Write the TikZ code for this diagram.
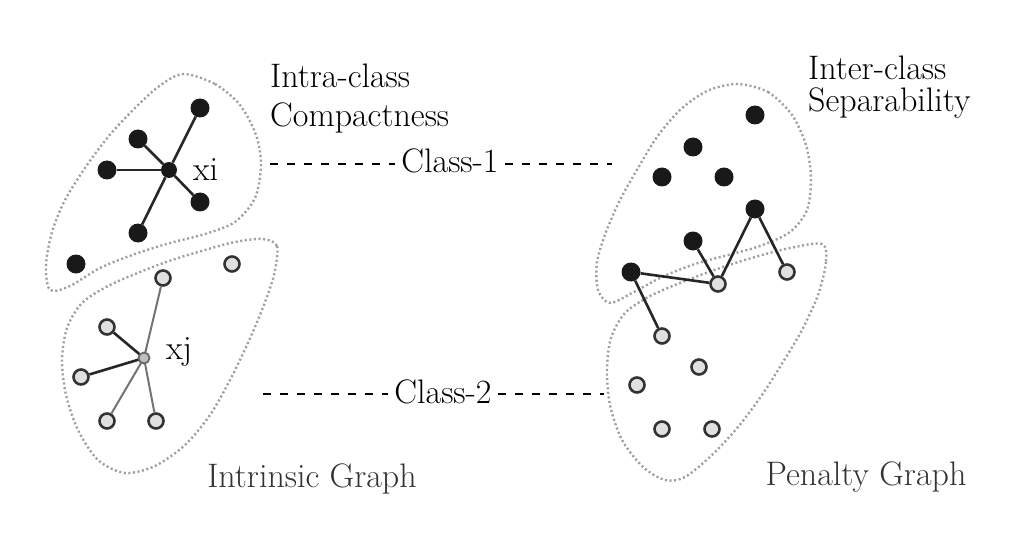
\documentclass[tikz,border=0pt]{standalone}
\begin{document}
\begin{tikzpicture}[x=1pt,y=-1pt,
  bdot/.style={circle,fill=black!90,inner sep=0pt,minimum size=19pt},
  wdot/.style={circle,fill=black!12,draw=black!80,line width=2.6pt,inner sep=0pt,minimum size=15pt},
  cdot/.style={circle,fill=black!25,draw=black!60,line width=1.8pt,inner sep=0pt,minimum size=11pt},
  blob/.style={draw=black!38,line width=2.4pt,dash pattern=on 2pt off 2.6pt},
  edge/.style={line width=2.6pt,draw=black!85},
  gedge/.style={line width=2pt,draw=black!55},
  lbl/.style={font=\fontsize{34}{40}\selectfont,inner sep=0pt},
  dline/.style={line width=2.2pt,dash pattern=on 8pt off 9pt}]
\useasboundingbox (0,0) rectangle (1033,540);
% blobs
\draw[blob] plot[smooth cycle] coordinates{(183,74)(215,84)(240,105)(256,135)(261,165)(255,198)(235,222)(205,234)(170,243)(135,254)(100,268)(70,286)(50,290)(46,265)(52,232)(65,200)(85,168)(108,137)(133,110)(158,87)};
\draw[blob] plot[smooth cycle] coordinates{(262,239)(277,246)(274,275)(262,310)(247,345)(230,380)(210,415)(185,445)(155,466)(125,473)(98,460)(78,430)(66,395)(62,360)(67,328)(82,303)(108,286)(140,272)(172,260)(205,250)(235,242)};
\draw[blob] plot[smooth cycle] coordinates{(737,84)(768,92)(792,115)(806,145)(811,178)(807,210)(790,232)(760,246)(728,255)(695,264)(662,277)(632,293)(610,303)(598,290)(597,262)(606,232)(620,200)(638,168)(657,137)(680,110)(707,91)};
\draw[blob] plot[smooth cycle] coordinates{(822,244)(826,262)(818,295)(802,330)(783,362)(762,395)(738,427)(712,455)(685,477)(665,480)(643,467)(622,440)(610,405)(607,370)(611,338)(625,313)(650,296)(685,281)(720,268)(755,257)(790,248)};
% left class 1
\node[bdot] (a1) at (200,108) {};
\node[bdot] (a2) at (138,139) {};
\node[bdot] (a3) at (107,170) {};
\node[bdot,minimum size=16pt] (xi) at (169,170) {};
\node[bdot] (a4) at (200,202) {};
\node[bdot] (a5) at (138,233) {};
\node[bdot] (a6) at (76,264) {};
\foreach \n in {a1,a2,a3,a4,a5} \draw[edge] (xi) -- (\n);
\node[lbl,anchor=west] (xil) at (193,170) {xi};
% left class 2
\node[wdot] (b1) at (163,278) {};
\node[wdot] (b2) at (232,264) {};
\node[wdot] (b3) at (107,327) {};
\node[wdot] (b4) at (81,377) {};
\node[wdot] (b5) at (107,421) {};
\node[wdot] (b6) at (156,421) {};
\draw[gedge] (144,358) -- (b1);
\draw[edge] (144,358) -- (b3);
\draw[edge] (144,358) -- (b4);
\draw[gedge] (144,358) -- (b5);
\draw[gedge] (144,358) -- (b6);
\node[cdot] (xj) at (144,358) {};
\node[lbl,anchor=west] (xjl) at (166,352) {xj};
% right class 1
\node[bdot] (c1) at (755,115) {};
\node[bdot] (c2) at (693,147) {};
\node[bdot] (c3) at (662,177) {};
\node[bdot] (c4) at (724,177) {};
\node[bdot] (c5) at (755,209) {};
\node[bdot] (c6) at (693,241) {};
\node[bdot] (c7) at (631,272) {};
% right class 2
\node[wdot] (d1) at (718,284) {};
\node[wdot] (d2) at (787,272) {};
\node[wdot] (d3) at (662,336) {};
\node[wdot] (d4) at (699,367) {};
\node[wdot] (d5) at (637,385) {};
\node[wdot] (d6) at (662,429) {};
\node[wdot] (d7) at (712,429) {};
\draw[edge] (c7) -- (d1);
\draw[edge] (c6) -- (d1);
\draw[edge] (d1) -- (c5);
\draw[edge] (c5) -- (d2);
\draw[edge] (c7) -- (d3);
% labels
\node[lbl,anchor=base west] (t1) at (270,88) {Intra-class};
\node[lbl,anchor=base west] (t2) at (270,127) {Compactness};
\node[lbl,anchor=base west] (t3) at (808,80) {Inter-class};
\node[lbl,anchor=base west] (t4) at (808,112) {Separability};
\node[lbl,anchor=base,text=black!80] (t5) at (312,487) {Intrinsic Graph};
\node[lbl,anchor=base,text=black!80] (t6) at (866,485) {Penalty Graph};
\node[lbl,anchor=base,inner xsep=6pt] (k1) at (450,173) {Class-1};
\node[lbl,anchor=base,inner xsep=6pt] (k2) at (443,403) {Class-2};
\coordinate (k1l) at (270,164);
\coordinate (k1r) at (612,164);
\coordinate (k2l) at (263,394);
\coordinate (k2r) at (604,394);
\draw[dline] (k1l) -- (k1l -| k1.west);
\draw[dline] (k1r -| k1.east) -- (k1r);
\draw[dline] (k2l) -- (k2l -| k2.west);
\draw[dline] (k2r -| k2.east) -- (k2r);
\end{tikzpicture}
\end{document}
